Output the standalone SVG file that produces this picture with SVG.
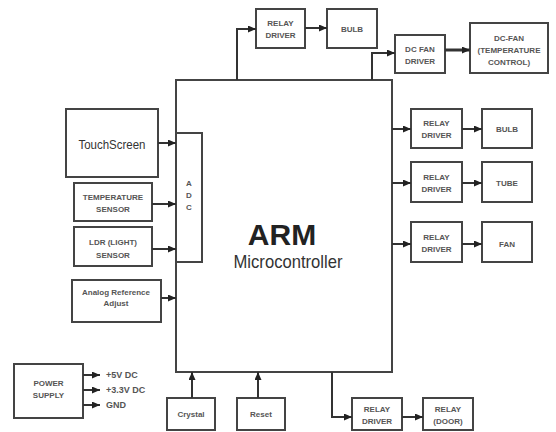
<svg xmlns="http://www.w3.org/2000/svg" width="556" height="432" viewBox="0 0 556 432">
<defs>
<marker id="ah" markerUnits="userSpaceOnUse" markerWidth="8" markerHeight="7" refX="8" refY="3.5" orient="auto">
<path d="M0,0 L8,3.5 L0,7 z" fill="#222"/>
</marker>
<style>
.box{fill:#fff;stroke:#444;stroke-width:2}
.ln{fill:none;stroke:#333;stroke-width:2;marker-end:url(#ah)}
.sm{font-family:"Liberation Sans",Arial,sans-serif;font-size:8px;font-weight:bold;fill:#555;text-anchor:middle}
.md{font-family:"Liberation Sans",Arial,sans-serif;font-size:9px;font-weight:bold;fill:#555;text-anchor:start}
</style>
</defs>
<rect width="556" height="432" fill="#fff"/>

<g id="arm">
<rect class="box" x="176" y="80" width="216" height="292"/>
<text x="282" y="245" font-family="Liberation Sans, Arial, sans-serif" font-size="30" font-weight="bold" fill="#222" text-anchor="middle">ARM</text>
<text x="288" y="268" font-family="Liberation Sans, Arial, sans-serif" font-size="19" fill="#333" text-anchor="middle" textLength="109" lengthAdjust="spacingAndGlyphs">Microcontroller</text>
</g>
<g id="adc">
<rect class="box" x="176" y="133" width="26" height="129"/>
<text class="sm" x="189" y="186">A</text>
<text class="sm" x="189" y="198">D</text>
<text class="sm" x="189" y="210">C</text>
</g>
<g id="touchscreen">
<rect class="box" x="66" y="109" width="92" height="68"/>
<text x="112" y="149" font-family="Liberation Sans, Arial, sans-serif" font-size="13.5" fill="#333" text-anchor="middle" textLength="67" lengthAdjust="spacingAndGlyphs">TouchScreen</text>
</g>
<g id="temp-sensor">
<rect class="box" x="74" y="183" width="78" height="38"/>
<text class="sm" x="113" y="200">TEMPERATURE</text>
<text class="sm" x="113" y="212">SENSOR</text>
</g>
<g id="ldr-sensor">
<rect class="box" x="74" y="227" width="78" height="39"/>
<text class="sm" x="113" y="245">LDR (LIGHT)</text>
<text class="sm" x="113" y="258">SENSOR</text>
</g>
<g id="analog-ref">
<rect class="box" x="72" y="280" width="89" height="42"/>
<text class="sm" x="116" y="295">Analog Reference</text>
<text class="sm" x="116" y="306">Adjust</text>
</g>
<g id="relay-top">
<rect class="box" x="256" y="9" width="49" height="39"/>
<text class="sm" x="280.5" y="26">RELAY</text>
<text class="sm" x="280.5" y="38">DRIVER</text>
</g>
<g id="bulb-top">
<rect class="box" x="327" y="9" width="50" height="39"/>
<text class="sm" x="352" y="32">BULB</text>
</g>
<g id="dcfan-driver">
<rect class="box" x="395" y="35" width="50" height="38"/>
<text class="sm" x="420" y="52">DC FAN</text>
<text class="sm" x="420" y="64">DRIVER</text>
</g>
<g id="dcfan">
<rect class="box" x="470" y="23" width="78" height="50"/>
<text class="sm" x="509" y="41">DC-FAN</text>
<text class="sm" x="509" y="53">(TEMPERATURE</text>
<text class="sm" x="509" y="65">CONTROL)</text>
</g>
<g id="relay-1">
<rect class="box" x="411" y="109" width="51" height="39"/>
<text class="sm" x="436.5" y="126">RELAY</text>
<text class="sm" x="436.5" y="138">DRIVER</text>
</g>
<g id="bulb">
<rect class="box" x="482" y="109" width="50" height="39"/>
<text class="sm" x="507" y="132">BULB</text>
</g>
<g id="relay-2">
<rect class="box" x="411" y="162" width="51" height="40"/>
<text class="sm" x="436.5" y="180">RELAY</text>
<text class="sm" x="436.5" y="192">DRIVER</text>
</g>
<g id="tube">
<rect class="box" x="482" y="162" width="50" height="40"/>
<text class="sm" x="507" y="186">TUBE</text>
</g>
<g id="relay-3">
<rect class="box" x="411" y="222" width="51" height="40"/>
<text class="sm" x="436.5" y="240">RELAY</text>
<text class="sm" x="436.5" y="252">DRIVER</text>
</g>
<g id="fan">
<rect class="box" x="482" y="222" width="50" height="40"/>
<text class="sm" x="507" y="247">FAN</text>
</g>
<g id="power-supply">
<rect class="box" x="14" y="364" width="69" height="54"/>
<text class="sm" x="48.5" y="386">POWER</text>
<text class="sm" x="48.5" y="398">SUPPLY</text>
<text class="md" x="106" y="378">+5V DC</text>
<text class="md" x="106" y="393">+3.3V DC</text>
<text class="md" x="106" y="408">GND</text>
</g>
<g id="crystal">
<rect class="box" x="167" y="398" width="48" height="32"/>
<text class="sm" x="191" y="417">Crystal</text>
</g>
<g id="reset">
<rect class="box" x="237" y="398" width="48" height="32"/>
<text class="sm" x="261" y="417">Reset</text>
</g>
<g id="relay-door-driver">
<rect class="box" x="352" y="398" width="50" height="32"/>
<text class="sm" x="377" y="412">RELAY</text>
<text class="sm" x="377" y="424">DRIVER</text>
</g>
<g id="relay-door">
<rect class="box" x="423" y="398" width="50" height="32"/>
<text class="sm" x="448" y="412">RELAY</text>
<text class="sm" x="448" y="424">(DOOR)</text>
</g>

<g id="connectors">
<path class="ln" d="M158,143 H176"/>
<path class="ln" d="M152,204 H176"/>
<path class="ln" d="M152,249 H176"/>
<path class="ln" d="M161,298 H176"/>
<path class="ln" d="M237,80 V29 H256"/>
<path class="ln" d="M305,28 H327"/>
<path class="ln" d="M372,80 V53 H395"/>
<path class="ln" d="M445,50 H470" style="stroke-width:3"/>
<path class="ln" d="M392,129 H411"/>
<path class="ln" d="M462,129 H482"/>
<path class="ln" d="M392,183 H411"/>
<path class="ln" d="M462,183 H482"/>
<path class="ln" d="M392,244 H411"/>
<path class="ln" d="M462,244 H482"/>
<path class="ln" d="M192,398 V372"/>
<path class="ln" d="M258,398 V372"/>
<path class="ln" d="M332,372 V417 H352"/>
<path class="ln" d="M402,417 H423"/>
<path class="ln" d="M83,375 H100"/>
<path class="ln" d="M83,390 H100"/>
<path class="ln" d="M83,405 H100"/>
</g>
</svg>
